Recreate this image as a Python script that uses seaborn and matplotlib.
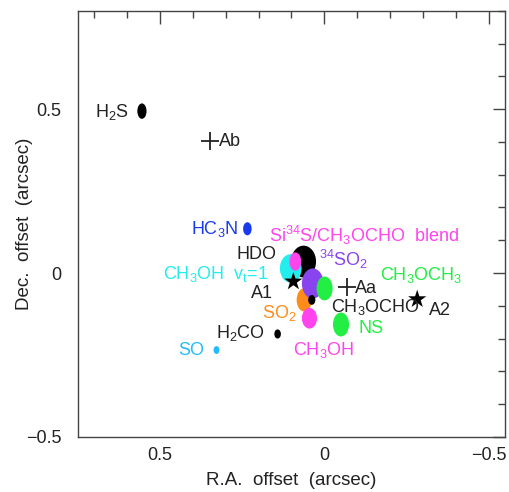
import matplotlib
matplotlib.use("Agg")
import matplotlib.pyplot as plt
from matplotlib.patches import Ellipse
from matplotlib.ticker import MultipleLocator, FuncFormatter
import seaborn as sns
import pandas as pd

sns.set_theme(style="white")
plt.rcParams["font.family"] = ["Liberation Sans", "DejaVu Sans"]
plt.rcParams["mathtext.fontset"] = "custom"
plt.rcParams["mathtext.rm"] = "Liberation Sans"
plt.rcParams["mathtext.default"] = "regular"

# Emission peaks (RA offset, Dec offset) and fitted sizes (arcsec)
species = ["HDO", "CH3OH vt=1", "Si34S blend", "34SO2", "SO2", "CH3OCH3",
           "CH3OCHO", "CH3OH", "NS", "H2CO", "SO", "HC3N", "H2S"]
ra = [0.063, 0.102, 0.088, 0.035, 0.061, -0.001,
      0.038, 0.045, -0.051, 0.142, 0.328, 0.234, 0.555]
dec = [0.035, 0.014, 0.035, -0.032, -0.082, -0.047,
       -0.082, -0.138, -0.157, -0.186, -0.235, 0.135, 0.494]
size_w = [0.076, 0.066, 0.036, 0.066, 0.046, 0.049,
          0.022, 0.046, 0.049, 0.020, 0.018, 0.026, 0.028]
size_h = [0.097, 0.087, 0.056, 0.092, 0.071, 0.073,
          0.030, 0.063, 0.073, 0.028, 0.024, 0.040, 0.047]
colors = ["#000000", "#22eeee", "#ff44ee", "#8844ee", "#ff8c1a", "#22ee44",
          "#000000", "#ff44ee", "#22ee44", "#000000", "#22bbff", "#1a3aee", "#000000"]
zorders = [2, 3, 4, 4, 3, 5, 6, 3, 3, 3, 3, 3, 3]

# Continuum sources
src_names = ["A1", "A2", "Aa", "Ab"]
src_ra = [0.094, -0.283, -0.069, 0.347]
src_dec = [-0.026, -0.080, -0.044, 0.402]
src_kind = ["star", "star", "plus", "plus"]

# Species labels: text, anchor, alignment, colour
lbl_text = [r"HDO", r"CH$_3$OH  v$_t$=1", r"Si$^{34}$S/CH$_3$OCHO  blend",
            r"$^{34}$SO$_2$", r"SO$_2$", r"CH$_3$OCH$_3$", r"CH$_3$OCHO",
            r"CH$_3$OH", r"NS", r"H$_2$CO", r"SO", r"HC$_3$N", r"H$_2$S"]
lbl_x = [0.206, 0.170, 0.167, 0.017, 0.190, -0.171, -0.021,
         0.096, -0.105, 0.180, 0.406, 0.333, 0.646]
lbl_y = [0.057, -0.003, 0.116, 0.040, -0.123, -0.006, -0.103,
         -0.235, -0.169, -0.184, -0.237, 0.135, 0.490]
lbl_ha = ["center", "right", "left", "left", "left", "left", "left",
          "left", "left", "right", "center", "center", "center"]
lbl_color = ["#222222", "#22eeee", "#ff44ee", "#8844ee", "#ff8c1a", "#22ee44",
             "#222222", "#ff44ee", "#22ee44", "#222222", "#22bbff", "#1a3aee", "#222222"]

src_lbl_x = [0.190, -0.319, -0.092, 0.322]
src_lbl_y = [-0.062, -0.113, -0.046, 0.400]
src_lbl_ha = ["center", "left", "left", "left"]

fig = plt.figure(figsize=(5.09, 4.92), dpi=100)
ax = fig.add_axes([0.153, 0.112, 0.839, 0.866])

for x, y, w, h, c, z in zip(ra, dec, size_w, size_h, colors, zorders):
    ax.add_patch(Ellipse((x, y), w, h, facecolor=c, edgecolor="none", zorder=z))

src = pd.DataFrame({"ra": src_ra, "dec": src_dec, "kind": src_kind})
sns.scatterplot(data=src[src.kind == "star"], x="ra", y="dec", marker="*",
                s=190, color="black", edgecolor="none", ax=ax, zorder=7, legend=False)
sns.scatterplot(data=src[src.kind == "plus"], x="ra", y="dec", marker="+",
                s=160, color="#222222", linewidth=1.3, ax=ax, zorder=7, legend=False)

FS = 13
for t, x, y, ha, c in zip(lbl_text, lbl_x, lbl_y, lbl_ha, lbl_color):
    ax.text(x, y, t, ha=ha, va="center", color=c, fontsize=FS, zorder=8)
for t, x, y, ha in zip(src_names, src_lbl_x, src_lbl_y, src_lbl_ha):
    ax.text(x, y, t, ha=ha, va="center", color="#222222", fontsize=FS, zorder=8)

ax.set_xlim(0.75, -0.55)
ax.set_ylim(-0.5, 0.8)
ax.xaxis.set_major_locator(MultipleLocator(0.5))
ax.yaxis.set_major_locator(MultipleLocator(0.5))
ax.xaxis.set_minor_locator(MultipleLocator(0.1))
ax.yaxis.set_minor_locator(MultipleLocator(0.1))
fmt = FuncFormatter(lambda v, p: "0" if abs(v) < 1e-9 else f"{v:g}".replace("-", "\u2212"))
ax.xaxis.set_major_formatter(fmt)
ax.yaxis.set_major_formatter(fmt)
ax.tick_params(which="both", direction="in", top=True, right=True,
               color="#444444", width=1.0, labelsize=FS, labelcolor="#222222")
ax.tick_params(which="major", length=9)
ax.tick_params(which="minor", length=5)
ax.tick_params(axis="x", which="major", pad=7)
ax.tick_params(axis="y", which="major", pad=12)
for sp in ax.spines.values():
    sp.set_color("#444444")
    sp.set_linewidth(1.0)

ax.set_xlabel("R.A.  offset  (arcsec)", fontsize=13.5, color="#222222", labelpad=6)
ax.set_ylabel("Dec.  offset  (arcsec)", fontsize=13.5, color="#222222")
ax.yaxis.label.set_verticalalignment("center")
ax.yaxis.set_label_coords(-0.124, 0.5)

fig.savefig("out.png", dpi=100)
